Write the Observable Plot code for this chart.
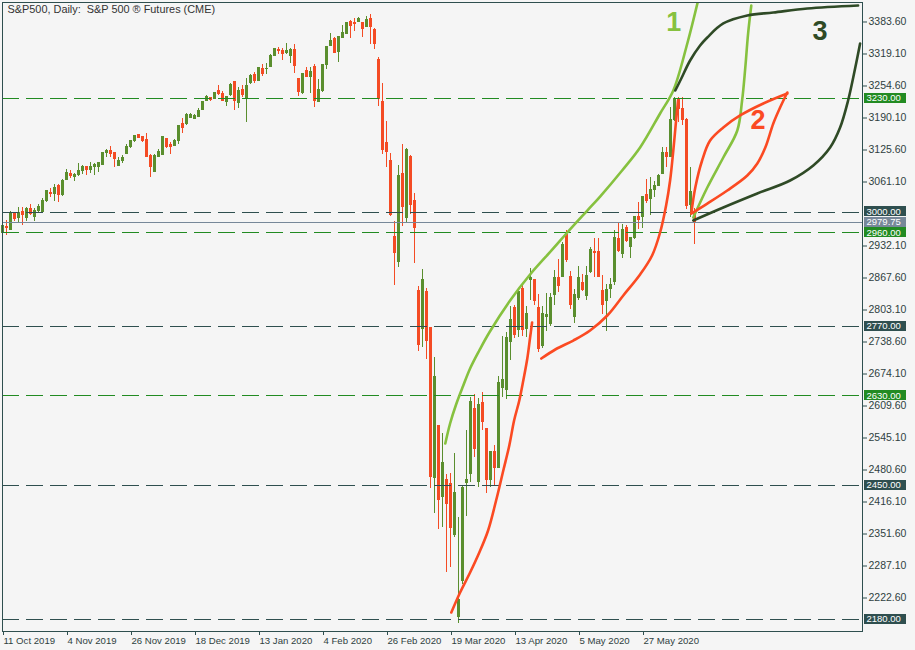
<!DOCTYPE html>
<html>
<head>
<meta charset="utf-8">
<script src="https://cdn.jsdelivr.net/npm/d3@7"></script>
<script src="https://cdn.jsdelivr.net/npm/@observablehq/plot@0.6"></script>
<style>
html,body{margin:0;padding:0;background:#f5f5f5;}
#chart{width:915px;height:650px;}
</style>
</head>
<body>
<div id="chart"></div>
<script>
// ---- Data ----
const title = "S&P500, Daily:\u00a0 S&P 500 \u00ae Futures (CME)";

const open = [2958,2971.4,2964.6,2996.9,2988.8,3001.6,2988.8,3007.0,2990.2,3003.6,
3000.9,3023.8,3038.5,3037.2,3053.3,3033.9,3065.4,3077.5,3070.8,3076.2,
3084.2,3092.3,3085.6,3092.3,3090.9,3096.3,3119.2,3123.2,3119.2,3094.3,
3103.0,3117.8,3131.3,3143.4,3155.5,3152.8,3146.1,3114.5,3080.9,3111.1,
3116.5,3148.1,3136.6,3134.0,3143.4,3177.0,3177.0,3190.4,3189.0,3193.0,
3206.5,3225.3,3230.7,3228.7,3245.5,3238.8,3222.0,3237.4,3262.3,3220.0,
3246.8,3230.7,3260.3,3277.7,3265.6,3289.2,3288.0,3293.9,3316.0,3327.5,
3326.1,3320.8,3316.0,3327.5,3269.0,3240.1,3284.5,3272.4,3292.5,3222.0,
3244.2,3297.9,3336.2,3349.6,3322.8,3351.7,3359.7,3383.2,3381.2,3383.2,
3381.2,3373.2,3389.9,3367.8,3308.0,3223.3,3139.0,3103.0,2950.0,2899.5,
3077.5,2988.2,3111.1,3023.8,2842.4,2765.2,2839.1,2767.2,2464.8,2568.3,
2425.8,2460.8,2452.7,2350.6,2185.3,2256.5,2455.4,2472.9,2603.9,2456.1,
2615.3,2562.3,2459.5,2516.6,2485.0,2645.0,2642.0,2738.3,2808.0,2761.8,
2845.8,2765.1,2863.9,2862.6,2807.5,2730.0,2790.0,2775.2,2834.3,2868.0,
2870.6,2955.0,2870.6,2788.0,2827.6,2857.9,2832.3,2879.4,2919.7,2919.7,
2842.4,2820.9,2845.8,2859.2,2946.5,2916.3,2968.0,2929.7,2948.6,2990.2,
2990.2,3035.9,3027.2,3044.0,3054.0,3077.6,3119.2,3112.5,3185.1,3228.7,
3208.6,3185.1,3015.7,2998.0];

const high = [2978,2983.4,3002.3,3000.3,3010.3,3010.3,3010.3,3015.7,3007.0,3015.7,
3027.1,3043.9,3047.3,3056.0,3056.0,3065.4,3085.6,3084.2,3078.9,3097.7,
3094.3,3092.3,3101.0,3099.0,3101.0,3121.2,3125.9,3132.6,3121.2,3111.1,
3114.5,3136.6,3144.7,3155.5,3156.8,3152.8,3159.5,3116.5,3116.5,3125.9,
3152.8,3148.1,3141.4,3146.1,3175.0,3188.4,3198.5,3198.5,3197.0,3208.5,
3223.3,3236.1,3232.1,3240.1,3255.6,3244.2,3232.1,3258.9,3263.6,3250.9,
3255.6,3269.0,3277.7,3282.5,3292.5,3297.9,3299.2,3318.1,3330.8,3331.5,
3329.5,3339.6,3329.5,3338.2,3269.0,3280.4,3292.5,3292.5,3297.9,3267.7,
3297.9,3334.2,3359.7,3351.7,3354.3,3376.5,3383.2,3386.6,3389.9,3393.3,
3381.2,3394.7,3398.7,3369.8,3311.4,3260.0,3183.5,3119.0,2981.5,3094.3,
3136.7,3129.3,3114.5,3037.2,2850.5,2884.1,2845.8,2767.2,2706.7,2568.3,
2554.9,2471.0,2472.9,2513.2,2384.2,2447.0,2560.2,2627.4,2632.8,2624.0,
2637.5,2562.3,2516.6,2530.0,2669.1,2750.0,2758.0,2810.2,2812.2,2845.8,
2852.5,2810.2,2886.1,2862.6,2834.3,2810.0,2836.0,2837.0,2882.7,2904.0,
2940.0,2964.0,2881.4,2845.0,2890.8,2874.7,2890.8,2929.7,2946.5,2946.5,
2872.6,2854.5,2865.9,2963.3,2976.8,2975.4,2973.4,2948.6,2991.6,3020.5,
3031.9,3065.5,3070.9,3062.0,3076.0,3131.3,3131.3,3211.9,3232.1,3232.1,
3232.1,3190.0,3089.7,3008.0];

const low = [2952,2953.2,2963.3,2982.1,2978.1,2973.4,2982.1,2993.6,2982.1,2998.2,
2999.6,3020.4,3029.1,3022.4,3020.4,3032.5,3064.1,3068.1,3062.7,3072.2,
3076.2,3074.2,3077.5,3074.2,3080.9,3095.0,3111.1,3111.1,3090.9,3092.3,
3097.7,3116.5,3127.9,3141.4,3148.7,3141.4,3111.1,3069.5,3079.5,3109.8,
3115.2,3127.9,3116.5,3132.6,3136.6,3158.1,3175.6,3188.4,3187.7,3191.7,
3205.2,3224.0,3224.0,3227.4,3235.4,3224.0,3213.3,3233.4,3205.2,3208.5,
3232.1,3181.7,3257.6,3260.3,3264.3,3273.7,3277.7,3292.5,3314.7,3318.1,
3306.0,3318.1,3300.6,3280.4,3233.4,3237.4,3271.0,3240.1,3211.9,3220.6,
3242.1,3287.2,3334.2,3319.4,3302.6,3349.6,3358.4,3349.6,3365.1,3382.6,
3353.0,3371.8,3338.2,3327.5,3213.3,3116.5,3091.0,2991.5,2853.0,2889.5,
2972.1,2976.8,2995.6,2897.5,2720.1,2728.2,2702.7,2442.6,2393.6,2361.0,
2365.4,2274.7,2284.0,2345.2,2170.5,2250.0,2386.9,2456.1,2506.5,2444.7,
2560.2,2433.9,2446.0,2449.4,2483.0,2626.0,2622.0,2701.3,2745.0,2748.3,
2750.0,2748.3,2822.3,2812.2,2718.1,2725.0,2760.0,2769.8,2812.2,2838.0,
2867.9,2898.0,2805.0,2776.0,2822.3,2841.1,2822.3,2877.3,2869.3,2867.9,
2794.0,2760.4,2825.6,2852.5,2919.7,2906.2,2939.8,2906.2,2946.0,2964.7,
2966.7,3018.4,2993.6,3030.0,3052.0,3076.3,3089.7,3110.0,3183.7,3181.7,
3175.0,3005.0,2990.2,2936.0];

const close = [2972,2967.4,2996.9,2986.8,2998.2,2993.6,3007.0,2996.9,3003.6,3011.7,
3023.8,3042.6,3037.2,3049.3,3035.9,3064.1,3078.9,3072.2,3076.2,3082.9,
3090.9,3085.6,3092.3,3096.3,3099.0,3119.2,3123.2,3117.8,3107.8,3103.0,
3109.8,3132.6,3143.4,3154.1,3150.1,3144.7,3112.5,3090.9,3114.5,3121.2,
3151.4,3131.3,3132.6,3144.7,3174.3,3170.3,3196.4,3195.8,3195.0,3205.2,
3222.0,3232.1,3226.7,3240.1,3238.8,3225.3,3232.1,3257.6,3225.3,3244.2,
3237.4,3255.6,3275.7,3265.6,3290.5,3279.1,3289.2,3316.0,3329.5,3324.8,
3318.1,3324.8,3327.5,3295.9,3242.1,3279.1,3273.7,3282.5,3224.0,3246.8,
3297.9,3332.8,3346.3,3320.7,3353.0,3361.1,3381.9,3375.2,3379.9,3389.3,
3369.8,3387.9,3373.2,3339.6,3228.7,3124.6,3121.2,2993.6,2917.6,3072.2,
3010.4,3125.9,3015.1,2968.0,2731.6,2862.6,2740.3,2466.2,2667.7,2420.0,
2494.4,2412.5,2364.0,2434.6,2218.9,2444.7,2460.8,2617.3,2523.3,2612.6,
2577.0,2459.5,2516.6,2485.0,2655.0,2662.0,2746.0,2783.3,2752.0,2839.0,
2762.0,2795.4,2867.9,2820.9,2724.8,2795.0,2794.0,2827.6,2867.9,2852.0,
2935.1,2903.0,2812.2,2834.0,2867.9,2843.7,2872.6,2925.0,2917.7,2869.3,
2812.2,2843.7,2854.5,2948.6,2921.7,2964.7,2941.8,2948.6,2990.2,2984.9,
3030.5,3022.4,3045.3,3054.0,3074.2,3119.2,3112.5,3186.4,3228.7,3208.6,
3185.1,3013.7,3040.6,2979.75];

// date axis: bar index of each label and the label text
const dateBars = [0,16,32,48,64,80,96,112,128,144,160];
const dateLabels = ["11 Oct 2019","4 Nov 2019","26 Nov 2019","18 Dec 2019","13 Jan 2020","4 Feb 2020","26 Feb 2020","19 Mar 2020","13 Apr 2020","5 May 2020","27 May 2020"];

// price axis tick values
const priceTicks = [3383.6,3319.1,3254.6,3190.1,3125.6,3061.1,2932.1,2867.6,2803.1,2738.6,2674.1,2609.6,2545.1,2480.6,2416.1,2351.6,2287.1,2222.6];

// horizontal levels
const greenLevels = [3230, 2960, 2630];
const darkLevels = [3000, 2770, 2450, 2180];
const currentPrice = 2979.75;

// hand-drawn scenario curves: [bar index, price]
const curve1 = [[110.7,2534.0],[111.9,2574.3],[113.4,2612.6],[115.2,2650.9],[116.9,2685.2],[119.2,2721.5],[121.7,2757.8],[126.9,2822.3],[131.9,2874.7],[137.7,2927.1],[141.2,2959.3],[146.2,3003.6],[149.4,3031.8],[154.9,3084.3],[159.4,3130.6],[164.4,3199.2],[167.7,3245.5],[171.2,3340.3],[173.9,3426.9]];
const curve1b = [[172.7,2989.6],[176.2,3050.0],[180.2,3110.5],[183.7,3164.9],[184.9,3225.4],[185.7,3291.9],[186.4,3360.4],[187.2,3416.9]];
const curve2a = [[112.2,2193.4],[114.4,2233.7],[116.9,2274.0],[119.2,2314.3],[121.4,2358.7],[123.4,2419.1],[125.2,2479.6],[126.7,2530.0],[127.9,2580.4],[129.2,2620.7],[130.2,2661.0],[131.2,2705.3],[131.9,2747.7],[132.4,2777.9]];
const curve2b = [[134.7,2705.3],[138.2,2723.5],[142.7,2741.6],[146.9,2761.8],[151.2,2792.0],[155.2,2832.4],[159.4,2874.7],[162.4,2913.0],[164.4,2959.3],[165.9,3013.7],[166.9,3064.1],[167.7,3124.6],[168.4,3185.1],[168.9,3225.4]];
const curve2up = [[172.2,2997.6],[173.2,3050.0],[174.9,3104.4],[176.9,3144.7],[180.2,3171.0],[184.4,3195.2],[190.2,3219.4],[196.2,3239.5]];
const curve2low = [[172.2,2997.6],[176.2,3017.7],[181.2,3044.0],[186.2,3074.2],[188.7,3098.4],[190.7,3130.6],[192.7,3179.0],[194.4,3211.1],[196.2,3241.5]];
const curve3a = [[168.2,3245.5],[169.7,3269.7],[171.9,3306.0],[174.4,3336.2],[176.2,3352.4],[180.2,3380.6],[186.2,3396.7],[192.7,3402.7],[201.2,3410.8],[213.9,3416.9]];
const curve3b = [[172.7,2983.5],[180.2,3009.7],[188.7,3037.9],[196.9,3064.1],[202.7,3094.4],[206.9,3130.6],[209.4,3170.9],[211.4,3225.4],[213.2,3291.9],[214.4,3340.3]];

// scenario numbers
const scenarioLabels = [
  {text: "1", bar: 167.8, price: 3382, group: "light"},
  {text: "2", bar: 188.9, price: 3185, group: "red"},
  {text: "3", bar: 204.4, price: 3364, group: "dark"}
];

// ---- Styles ----
const BG = "#f5f5f5", FRAME = "#2f4f4f";
const BULL = "#5a8e2e", BEAR = "#f44b24";
const LGREEN = "#86c13f", RED = "#fb4a22", DGREEN = "#2f4a26";
const LEVEL_GREEN = "#228b22", LEVEL_DARK = "#2f4f4f", GRAY = "#778899";
const groupColor = {light: LGREEN, red: RED, dark: DGREEN};

const bars = open.map((o, i) => ({i, o, h: high[i], l: low[i], c: close[i], up: close[i] >= o}));
const dateMap = new Map(dateBars.map((b, k) => [b, dateLabels[k]]));

const yDomain = [2155.1, 3422.9];
const pxPerPrice = (631 - 2) / (yDomain[1] - yDomain[0]);
const halfBox = 4.9 / pxPerPrice;
const boxX1 = 215.5, boxX2 = 226;

// label boxes; small pixel nudges keep the stacked boxes apart as the terminal does
const levelRows = [
  ...greenLevels.map(p => ({p, fill: LEVEL_GREEN, nudge: p === 2960 ? 0.4 : 0})),
  ...darkLevels.map(p => ({p, fill: LEVEL_DARK, nudge: p === 3000 ? -0.8 : 0})),
  {p: currentPrice, fill: GRAY, nudge: 0}
];

const lineOpts = (stroke) => ({x: d => d[0], y: d => d[1], stroke, strokeWidth: 2.6, curve: "catmull-rom", clip: true});

const plot = Plot.plot({
  width: 915,
  height: 650,
  marginLeft: 2,
  marginRight: 53,
  marginTop: 2,
  marginBottom: 19,
  style: {background: BG, fontFamily: "'Liberation Sans', Arial, sans-serif", color: FRAME},
  x: {type: "linear", domain: [0, 215]},
  y: {domain: yDomain},
  marks: [
    // candles
    Plot.ruleX(bars, {x: "i", y1: "l", y2: "h", stroke: d => d.up ? BULL : BEAR, strokeWidth: 1, shapeRendering: "crispEdges"}),
    Plot.ruleX(bars, {x: "i", y1: d => Math.max(d.o, d.c), y2: d => Math.min(d.o, d.c), stroke: d => d.up ? BULL : BEAR, strokeWidth: 3, insetTop: -0.5, insetBottom: -0.5, shapeRendering: "crispEdges"}),
    // level lines
    Plot.ruleY(greenLevels, {stroke: LEVEL_GREEN, strokeDasharray: "17,7", shapeRendering: "crispEdges"}),
    Plot.ruleY(darkLevels, {stroke: LEVEL_DARK, strokeDasharray: "17,7", shapeRendering: "crispEdges"}),
    Plot.ruleY([currentPrice], {stroke: GRAY, shapeRendering: "crispEdges"}),
    // scenario curves
    Plot.line(curve1, lineOpts(LGREEN)),
    Plot.line(curve1b, lineOpts(LGREEN)),
    Plot.line(curve2a, lineOpts(RED)),
    Plot.line(curve2b, lineOpts(RED)),
    Plot.line(curve2up, lineOpts(RED)),
    Plot.line(curve2low, lineOpts(RED)),
    Plot.line(curve3a, lineOpts(DGREEN)),
    Plot.line(curve3b, lineOpts(DGREEN)),
    Plot.text(scenarioLabels, {x: "bar", y: "price", text: "text", fill: d => groupColor[d.group], fontSize: 27, fontWeight: "bold", fontFamily: "'Liberation Sans', Arial, sans-serif"}),
    // frame
    Plot.frame({stroke: FRAME, shapeRendering: "crispEdges"}),
    // axes
    Plot.axisY({ticks: priceTicks, anchor: "right", tickSize: 4, tickPadding: 2, tickFormat: d => d.toFixed(2), fontSize: 10.5, fill: "#2f3f3f", stroke: FRAME, label: null}),
    Plot.axisX({ticks: dateBars, tickFormat: d => dateMap.get(d), tickSize: 4, tickPadding: 2, textAnchor: "start", dx: 1, fontSize: 9.6, fill: "#2f3f3f", stroke: FRAME, label: null}),
    // price label boxes
    Plot.rect(levelRows, {x1: boxX1, x2: boxX2, y1: d => d.p - halfBox - d.nudge / pxPerPrice, y2: d => d.p + halfBox - d.nudge / pxPerPrice, fill: "fill", shapeRendering: "crispEdges"}),
    Plot.text(levelRows, {x: boxX1, y: d => d.p - d.nudge / pxPerPrice, text: d => d.p.toFixed(2), textAnchor: "start", dx: 2, fill: "white", fontSize: 9.5}),
    // title
    Plot.text([title], {frameAnchor: "top-left", dx: 5, dy: 3, lineAnchor: "top", textAnchor: "start", fontSize: 10.9, fill: "#333"})
  ]
});
document.getElementById("chart").appendChild(plot);
</script>
</body>
</html>
